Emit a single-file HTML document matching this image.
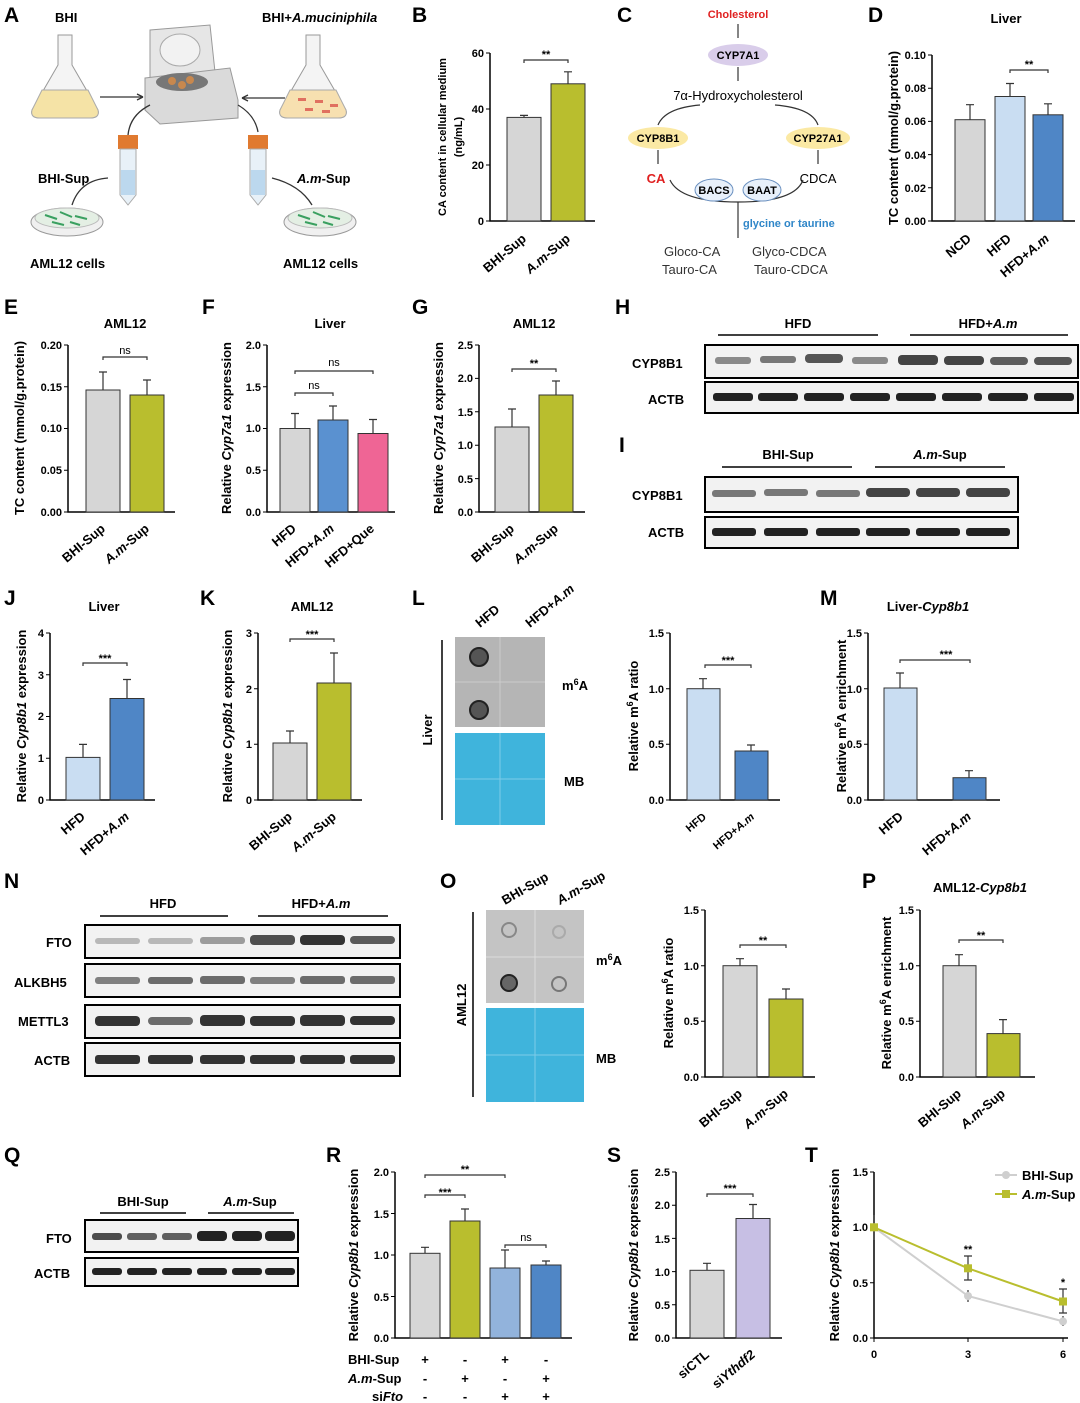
<!DOCTYPE html>
<html><head><meta charset="utf-8"><style>
html,body{margin:0;padding:0;background:#fff}
svg{display:block;font-family:"Liberation Sans",Arial,sans-serif;font-weight:bold}
.pl{font-size:21px;font-weight:bold}
.t{font-size:13px}
.s{font-size:11px}
.ax{stroke:#000;stroke-width:1.5;fill:none}
.bar{stroke:#333;stroke-width:1}
.eb{stroke:#333;stroke-width:1.2;fill:none}
</style></head><body>
<svg width="1080" height="1403" viewBox="0 0 1080 1403" xmlns="http://www.w3.org/2000/svg">
<!-- Panel A -->
<text x="4" y="22" class="pl">A</text>
<text x="55" y="22" class="t" text-anchor="start">BHI</text>
<text x="262" y="22" class="t">BHI+<tspan font-style="italic">A.muciniphila</tspan></text>
<path d="M58,35 L72,35 L72,65 L98,110 Q100,118 90,118 L40,118 Q30,118 32,110 L58,65 Z" fill="#f4f4f4" stroke="#999"/>
<path d="M42,90 L88,90 L98,110 Q100,118 90,118 L40,118 Q30,118 32,110 Z" fill="#f5e3a6" stroke="#aaa"/>
<path d="M306,35 L320,35 L320,65 L346,110 Q348,118 338,118 L288,118 Q278,118 280,110 L306,65 Z" fill="#f4f4f4" stroke="#999"/>
<path d="M290,90 L336,90 L346,110 Q348,118 338,118 L288,118 Q278,118 280,110 Z" fill="#f7e0b0" stroke="#aaa"/>
<g fill="#e07060"><rect x="298" y="98" width="8" height="3"/><rect x="315" y="100" width="8" height="3"/><rect x="330" y="104" width="8" height="3"/><rect x="305" y="108" width="8" height="3"/><rect x="322" y="110" width="8" height="3"/></g>
<path d="M150,30 L210,25 L215,72 L150,78 Z" fill="#e6e6e6" stroke="#999"/>
<ellipse cx="180" cy="50" rx="20" ry="16" fill="#f2f2f2" stroke="#aaa"/>
<path d="M145,78 L230,68 L238,100 L238,118 L160,124 L145,110 Z" fill="#dadada" stroke="#999"/>
<ellipse cx="182" cy="82" rx="26" ry="9" fill="#777"/>
<circle cx="172" cy="81" r="4" fill="#c8884e"/><circle cx="190" cy="80" r="4" fill="#c8884e"/><circle cx="182" cy="85" r="4" fill="#c8884e"/>
<g stroke="#333" stroke-width="1.3" fill="none">
<path d="M100,97 L143,97"/><path d="M143,97 l-6,-3 M143,97 l-6,3"/>
<path d="M285,98 L242,98"/><path d="M242,98 l6,-3 M242,98 l6,3"/>
<path d="M150,105 Q130,115 128,135"/><path d="M238,105 Q255,115 258,132"/>
<path d="M108,178 Q80,180 72,205"/><path d="M272,178 Q300,185 312,205"/>
</g>
<g><rect x="118" y="135" width="20" height="14" fill="#e07a30"/><path d="M120,149 L136,149 L136,195 L128,205 L120,195 Z" fill="#e8f1f8" stroke="#aaa"/><rect x="121" y="170" width="14" height="25" fill="#bcd8ee"/>
<rect x="248" y="135" width="20" height="14" fill="#e07a30"/><path d="M250,149 L266,149 L266,195 L258,205 L250,195 Z" fill="#e8f1f8" stroke="#aaa"/><rect x="251" y="170" width="14" height="25" fill="#bcd8ee"/></g>
<text x="38" y="183" class="t">BHI-Sup</text>
<text x="297" y="183" class="t"><tspan font-style="italic">A.m</tspan>-Sup</text>
<ellipse cx="67" cy="222" rx="36" ry="14" fill="#f0f0f0" stroke="#999"/><ellipse cx="67" cy="218" rx="32" ry="10" fill="#e4efe4" stroke="#bbb"/>
<ellipse cx="320" cy="222" rx="36" ry="14" fill="#f0f0f0" stroke="#999"/><ellipse cx="320" cy="218" rx="32" ry="10" fill="#e4efe4" stroke="#bbb"/>
<g stroke="#3aa060" stroke-width="2"><path d="M45,215 l12,4 M60,212 l12,5 M75,216 l12,3 M52,222 l12,3 M70,222 l10,3"/><path d="M298,215 l12,4 M313,212 l12,5 M328,216 l12,3 M305,222 l12,3 M323,222 l10,3"/></g>
<text x="30" y="268" class="t">AML12 cells</text>
<text x="283" y="268" class="t">AML12 cells</text>

<!-- Panel B -->
<text x="412" y="22" class="pl">B</text>
<g class="ax"><path d="M490,53 L490,221 L595,221"/></g>
<g class="s" text-anchor="end"><text x="484" y="225">0</text><text x="484" y="169">20</text><text x="484" y="113">40</text><text x="484" y="57">60</text></g>
<g stroke="#000"><path d="M486,221h4M486,165h4M486,109h4M486,53h4"/></g>
<text transform="translate(446,137) rotate(-90)" class="s" text-anchor="middle">CA content in cellular medium</text>
<text transform="translate(462,137) rotate(-90)" class="s" text-anchor="middle">(ng/mL)</text>
<rect x="507" y="117.4" width="34" height="103.6" fill="#d6d6d6" class="bar"/>
<rect x="551" y="83.8" width="34" height="137.2" fill="#b9be2e" class="bar"/>
<path class="eb" d="M524,117.4v-2M520,115.4h8M568,83.8v-12M564,71.8h8"/>
<path d="M524,63v-3h44v3" class="eb"/><text x="546" y="58" class="s" text-anchor="middle">**</text>
<text transform="translate(527,240) rotate(-40)" class="t" text-anchor="end">BHI-Sup</text>
<text transform="translate(571,240) rotate(-40)" class="t" text-anchor="end"><tspan font-style="italic">A.m</tspan>-Sup</text>

<!-- Panel C -->
<text x="617" y="22" class="pl">C</text>
<text x="738" y="18" class="s" fill="#e02020" text-anchor="middle">Cholesterol</text>
<path d="M738,24v14" class="eb"/>
<ellipse cx="738" cy="55" rx="30" ry="11" fill="#d9cdea"/><text x="738" y="59" class="s" text-anchor="middle">CYP7A1</text>
<path d="M738,67v14" class="eb"/>
<text x="738" y="100" class="t" text-anchor="middle" font-weight="normal">7α-Hydroxycholesterol</text>
<path d="M700,105 Q665,108 658,125 M775,105 Q812,108 818,125" class="eb"/>
<ellipse cx="658" cy="138" rx="30" ry="11" fill="#fbe9a4"/><text x="658" y="142" class="s" text-anchor="middle">CYP8B1</text>
<ellipse cx="818" cy="138" rx="32" ry="11" fill="#fbe9a4"/><text x="818" y="142" class="s" text-anchor="middle">CYP27A1</text>
<path d="M658,150v14M818,150v14" class="eb"/>
<text x="656" y="183" class="t" fill="#e02020" text-anchor="middle">CA</text>
<text x="818" y="183" class="t" text-anchor="middle" font-weight="normal">CDCA</text>
<path d="M670,180 Q680,202 738,202 Q795,202 803,180" class="eb"/>
<ellipse cx="714" cy="190" rx="19" ry="11" fill="#e8f0fa" stroke="#6a90c0"/><text x="714" y="194" class="s" text-anchor="middle">BACS</text>
<ellipse cx="762" cy="190" rx="19" ry="11" fill="#e8f0fa" stroke="#6a90c0"/><text x="762" y="194" class="s" text-anchor="middle">BAAT</text>
<path d="M738,202v36" class="eb"/>
<text x="743" y="227" class="s" fill="#2f86c8">glycine or taurine</text>
<g class="t" font-weight="normal" fill="#333"><text x="664" y="256">Gloco-CA</text><text x="752" y="256">Glyco-CDCA</text><text x="662" y="274">Tauro-CA</text><text x="754" y="274">Tauro-CDCA</text></g>

<!-- Panel D -->
<text x="868" y="22" class="pl">D</text>
<text x="1006" y="23" class="t" text-anchor="middle">Liver</text>
<path class="ax" d="M932,55L932,221L1075,221"/>
<g stroke="#000"><path d="M928,221h4M928,187.8h4M928,154.6h4M928,121.4h4M928,88.2h4M928,55h4"/></g>
<g class="s" text-anchor="end"><text x="926" y="225">0.00</text><text x="926" y="192">0.02</text><text x="926" y="159">0.04</text><text x="926" y="125">0.06</text><text x="926" y="92">0.08</text><text x="926" y="59">0.10</text></g>
<text transform="translate(898,138) rotate(-90)" class="t" text-anchor="middle">TC content (mmol/g.protein)</text>
<rect x="955" y="119.7" width="30" height="101.3" fill="#d6d6d6" class="bar"/>
<rect x="995" y="96.5" width="30" height="124.5" fill="#c9ddf2" class="bar"/>
<rect x="1033" y="114.8" width="30" height="106.2" fill="#4f86c6" class="bar"/>
<path class="eb" d="M970,119.7v-15M966,104.7h8M1010,96.5v-13M1006,83.5h8M1048,114.8v-11M1044,103.8h8"/>
<path class="eb" d="M1010,73v-3h38v3"/><text x="1029" y="68" class="s" text-anchor="middle">**</text>
<text transform="translate(972,240) rotate(-40)" class="t" text-anchor="end">NCD</text>
<text transform="translate(1012,240) rotate(-40)" class="t" text-anchor="end">HFD</text>
<text transform="translate(1050,240) rotate(-40)" class="t" text-anchor="end">HFD+<tspan font-style="italic">A.m</tspan></text>

<!-- Panel E -->
<text x="4" y="314" class="pl">E</text>
<text x="125" y="328" class="t" text-anchor="middle">AML12</text>
<path class="ax" d="M68,345L68,512L175,512"/>
<g stroke="#000"><path d="M64,512h4M64,470.25h4M64,428.5h4M64,386.75h4M64,345h4"/></g>
<g class="s" text-anchor="end"><text x="62" y="516">0.00</text><text x="62" y="474">0.05</text><text x="62" y="432">0.10</text><text x="62" y="391">0.15</text><text x="62" y="349">0.20</text></g>
<text transform="translate(24,428) rotate(-90)" class="t" text-anchor="middle">TC content (mmol/g.protein)</text>
<rect x="86" y="390" width="34" height="122" fill="#d6d6d6" class="bar"/>
<rect x="130" y="395" width="34" height="117" fill="#b9be2e" class="bar"/>
<path class="eb" d="M103,390v-18M99,372h8M147,395v-15M143,380h8"/>
<path class="eb" d="M103,360v-3h44v3"/><text x="125" y="354" class="s" text-anchor="middle" font-weight="normal">ns</text>
<text transform="translate(106,530) rotate(-40)" class="t" text-anchor="end">BHI-Sup</text>
<text transform="translate(150,530) rotate(-40)" class="t" text-anchor="end"><tspan font-style="italic">A.m</tspan>-Sup</text>

<!-- Panel F -->
<text x="202" y="314" class="pl">F</text>
<text x="330" y="328" class="t" text-anchor="middle">Liver</text>
<path class="ax" d="M267,345L267,512L395,512"/>
<g stroke="#000"><path d="M263,512h4M263,470.25h4M263,428.5h4M263,386.75h4M263,345h4"/></g>
<g class="s" text-anchor="end"><text x="261" y="516">0.0</text><text x="261" y="474">0.5</text><text x="261" y="432">1.0</text><text x="261" y="391">1.5</text><text x="261" y="349">2.0</text></g>
<text transform="translate(231,428) rotate(-90)" class="t" text-anchor="middle">Relative <tspan font-style="italic">Cyp7a1</tspan> expression</text>
<rect x="280" y="428.5" width="30" height="83.5" fill="#d6d6d6" class="bar"/>
<rect x="318" y="420" width="30" height="92" fill="#5a91d0" class="bar"/>
<rect x="358" y="433.5" width="30" height="78.5" fill="#ef6595" class="bar"/>
<path class="eb" d="M295,428.5v-15M291,413.5h8M333,420v-14M329,406h8M373,433.5v-14M369,419.5h8"/>
<path class="eb" d="M295,396v-3h38v3"/><text x="314" y="389" class="s" text-anchor="middle" font-weight="normal">ns</text>
<path class="eb" d="M295,374v-3h78v3"/><text x="334" y="366" class="s" text-anchor="middle" font-weight="normal">ns</text>
<text transform="translate(297,530) rotate(-40)" class="t" text-anchor="end">HFD</text>
<text transform="translate(335,530) rotate(-40)" class="t" text-anchor="end">HFD+<tspan font-style="italic">A.m</tspan></text>
<text transform="translate(375,530) rotate(-40)" class="t" text-anchor="end">HFD+Que</text>

<!-- Panel G -->
<text x="412" y="314" class="pl">G</text>
<text x="534" y="328" class="t" text-anchor="middle">AML12</text>
<path class="ax" d="M479,345L479,512L585,512"/>
<g stroke="#000"><path d="M475,512h4M475,478.6h4M475,445.2h4M475,411.8h4M475,378.4h4M475,345h4"/></g>
<g class="s" text-anchor="end"><text x="473" y="516">0.0</text><text x="473" y="483">0.5</text><text x="473" y="449">1.0</text><text x="473" y="416">1.5</text><text x="473" y="382">2.0</text><text x="473" y="349">2.5</text></g>
<text transform="translate(443,428) rotate(-90)" class="t" text-anchor="middle">Relative <tspan font-style="italic">Cyp7a1</tspan> expression</text>
<rect x="495" y="427" width="34" height="85" fill="#d6d6d6" class="bar"/>
<rect x="539" y="395" width="34" height="117" fill="#b9be2e" class="bar"/>
<path class="eb" d="M512,427v-18M508,409h8M556,395v-14M552,381h8"/>
<path class="eb" d="M512,372v-3h44v3"/><text x="534" y="367" class="s" text-anchor="middle">**</text>
<text transform="translate(515,530) rotate(-40)" class="t" text-anchor="end">BHI-Sup</text>
<text transform="translate(559,530) rotate(-40)" class="t" text-anchor="end"><tspan font-style="italic">A.m</tspan>-Sup</text>

<!-- Panel H -->
<text x="615" y="314" class="pl">H</text>
<text x="798" y="328" class="t" text-anchor="middle">HFD</text>
<text x="988" y="328" class="t" text-anchor="middle">HFD+<tspan font-style="italic">A.m</tspan></text>
<path d="M718,335h160M910,335h158" stroke="#000" stroke-width="1.5"/>
<text x="632" y="368" class="t">CYP8B1</text><text x="648" y="404" class="t">ACTB</text>
<rect x="705" y="345" width="373" height="33" fill="#f2f2f2" stroke="#000" stroke-width="2"/>
<rect x="705" y="382" width="373" height="31" fill="#f2f2f2" stroke="#000" stroke-width="2"/>
<g fill="#444"><rect x="715" y="357" width="36" height="7" rx="3" opacity=".6"/><rect x="760" y="356" width="36" height="7" rx="3" opacity=".7"/><rect x="805" y="354" width="38" height="9" rx="4" opacity=".9"/><rect x="852" y="357" width="36" height="7" rx="3" opacity=".6"/>
<rect x="898" y="355" width="40" height="10" rx="4"/><rect x="944" y="356" width="40" height="9" rx="4"/><rect x="990" y="357" width="38" height="8" rx="4" opacity=".85"/><rect x="1034" y="357" width="38" height="8" rx="4" opacity=".9"/></g>
<g fill="#222"><rect x="713" y="393" width="40" height="8" rx="3"/><rect x="758" y="393" width="40" height="8" rx="3"/><rect x="804" y="393" width="40" height="8" rx="3"/><rect x="850" y="393" width="40" height="8" rx="3"/><rect x="896" y="393" width="40" height="8" rx="3"/><rect x="942" y="393" width="40" height="8" rx="3"/><rect x="988" y="393" width="40" height="8" rx="3"/><rect x="1034" y="393" width="40" height="8" rx="3"/></g>

<!-- Panel I -->
<text x="619" y="452" class="pl">I</text>
<text x="788" y="459" class="t" text-anchor="middle">BHI-Sup</text>
<text x="940" y="459" class="t" text-anchor="middle"><tspan font-style="italic">A.m</tspan>-Sup</text>
<path d="M722,467h130M875,467h130" stroke="#000" stroke-width="1.5"/>
<text x="632" y="500" class="t">CYP8B1</text><text x="648" y="537" class="t">ACTB</text>
<rect x="705" y="477" width="313" height="35" fill="#f2f2f2" stroke="#000" stroke-width="2"/>
<rect x="705" y="517" width="313" height="31" fill="#f2f2f2" stroke="#000" stroke-width="2"/>
<g fill="#444"><rect x="712" y="490" width="44" height="7" rx="3" opacity=".7"/><rect x="764" y="489" width="44" height="7" rx="3" opacity=".7"/><rect x="816" y="490" width="44" height="7" rx="3" opacity=".7"/><rect x="866" y="488" width="44" height="9" rx="4"/><rect x="916" y="488" width="44" height="9" rx="4"/><rect x="966" y="488" width="44" height="9" rx="4"/></g>
<g fill="#222"><rect x="712" y="528" width="44" height="8" rx="3"/><rect x="764" y="528" width="44" height="8" rx="3"/><rect x="816" y="528" width="44" height="8" rx="3"/><rect x="866" y="528" width="44" height="8" rx="3"/><rect x="916" y="528" width="44" height="8" rx="3"/><rect x="966" y="528" width="44" height="8" rx="3"/></g>

<!-- Panel J -->
<text x="4" y="605" class="pl">J</text>
<text x="104" y="611" class="t" text-anchor="middle">Liver</text>
<path class="ax" d="M50,633L50,800L155,800"/>
<g stroke="#000"><path d="M46,800h4M46,758.25h4M46,716.5h4M46,674.75h4M46,633h4"/></g>
<g class="s" text-anchor="end"><text x="44" y="804">0</text><text x="44" y="762">1</text><text x="44" y="720">2</text><text x="44" y="679">3</text><text x="44" y="637">4</text></g>
<text transform="translate(26,716) rotate(-90)" class="t" text-anchor="middle">Relative <tspan font-style="italic">Cyp8b1</tspan> expression</text>
<rect x="66" y="757.4" width="34" height="42.6" fill="#c9ddf2" class="bar"/>
<rect x="110" y="698.5" width="34" height="101.5" fill="#4f86c6" class="bar"/>
<path class="eb" d="M83,757.4v-13M79,744.4h8M127,698.5v-19M123,679.5h8"/>
<path class="eb" d="M83,666v-3h44v3"/><text x="105" y="662" class="s" text-anchor="middle">***</text>
<text transform="translate(86,818) rotate(-40)" class="t" text-anchor="end">HFD</text>
<text transform="translate(130,818) rotate(-40)" class="t" text-anchor="end">HFD+<tspan font-style="italic">A.m</tspan></text>

<!-- Panel K -->
<text x="200" y="605" class="pl">K</text>
<text x="312" y="611" class="t" text-anchor="middle">AML12</text>
<path class="ax" d="M258,633L258,800L362,800"/>
<g stroke="#000"><path d="M254,800h4M254,744.3h4M254,688.7h4M254,633h4"/></g>
<g class="s" text-anchor="end"><text x="252" y="804">0</text><text x="252" y="748">1</text><text x="252" y="693">2</text><text x="252" y="637">3</text></g>
<text transform="translate(232,716) rotate(-90)" class="t" text-anchor="middle">Relative <tspan font-style="italic">Cyp8b1</tspan> expression</text>
<rect x="273" y="743" width="34" height="57" fill="#d6d6d6" class="bar"/>
<rect x="317" y="683" width="34" height="117" fill="#b9be2e" class="bar"/>
<path class="eb" d="M290,743v-12M286,731h8M334,683v-30M330,653h8"/>
<path class="eb" d="M290,642v-3h44v3"/><text x="312" y="638" class="s" text-anchor="middle">***</text>
<text transform="translate(293,818) rotate(-40)" class="t" text-anchor="end">BHI-Sup</text>
<text transform="translate(337,818) rotate(-40)" class="t" text-anchor="end"><tspan font-style="italic">A.m</tspan>-Sup</text>

<!-- Panel L -->
<text x="412" y="605" class="pl">L</text>
<text transform="translate(480,628) rotate(-40)" class="t">HFD</text>
<text transform="translate(530,628) rotate(-40)" class="t">HFD+<tspan font-style="italic">A.m</tspan></text>
<path d="M442,640v180" stroke="#000" stroke-width="1.5"/>
<text transform="translate(432,730) rotate(-90)" class="t" text-anchor="middle">Liver</text>
<rect x="455" y="637" width="90" height="90" fill="#b5b5b5"/>
<path d="M500,637v90M455,682h90" stroke="#ccc"/>
<circle cx="479" cy="657" r="9" fill="#555" stroke="#222" stroke-width="2"/>
<circle cx="479" cy="710" r="9" fill="#555" stroke="#222" stroke-width="2"/>
<rect x="455" y="733" width="90" height="92" fill="#3fb4dc"/>
<path d="M500,733v92M455,779h90" stroke="#7dcbe8"/>
<text x="562" y="690" class="t">m<tspan baseline-shift="super" font-size="9">6</tspan>A</text>
<text x="564" y="786" class="t">MB</text>
<path class="ax" d="M670,633L670,800L780,800"/>
<g stroke="#000"><path d="M666,800h4M666,744.3h4M666,688.7h4M666,633h4"/></g>
<g class="s" text-anchor="end"><text x="664" y="804">0.0</text><text x="664" y="748">0.5</text><text x="664" y="693">1.0</text><text x="664" y="637">1.5</text></g>
<text transform="translate(638,716) rotate(-90)" class="t" text-anchor="middle">Relative m<tspan baseline-shift="super" font-size="9">6</tspan>A ratio</text>
<rect x="687" y="688.7" width="33" height="111.3" fill="#c9ddf2" class="bar"/>
<rect x="735" y="751" width="33" height="49" fill="#4f86c6" class="bar"/>
<path class="eb" d="M703,688.7v-10M699,678.7h8M751,751v-6M747,745h8"/>
<path class="eb" d="M705,668v-3h46v3"/><text x="728" y="664" class="s" text-anchor="middle">***</text>
<text transform="translate(707,818) rotate(-40)" class="s" text-anchor="end">HFD</text>
<text transform="translate(755,818) rotate(-40)" class="s" text-anchor="end">HFD+<tspan font-style="italic">A.m</tspan></text>

<!-- Panel M -->
<text x="820" y="605" class="pl">M</text>
<text x="928" y="611" class="t" text-anchor="middle">Liver-<tspan font-style="italic">Cyp8b1</tspan></text>
<path class="ax" d="M868,633L868,800L1000,800"/>
<g stroke="#000"><path d="M864,800h4M864,744.3h4M864,688.7h4M864,633h4"/></g>
<g class="s" text-anchor="end"><text x="862" y="804">0.0</text><text x="862" y="748">0.5</text><text x="862" y="693">1.0</text><text x="862" y="637">1.5</text></g>
<text transform="translate(846,716) rotate(-90)" class="t" text-anchor="middle">Relative m<tspan baseline-shift="super" font-size="9">6</tspan>A enrichment</text>
<rect x="884" y="688" width="33" height="112" fill="#c9ddf2" class="bar"/>
<rect x="953" y="777.7" width="33" height="22.3" fill="#4f86c6" class="bar"/>
<path class="eb" d="M900,688v-15M896,673h8M969,777.7v-7M965,770.7h8"/>
<path class="eb" d="M900,663v-3h70v3"/><text x="946" y="658" class="s" text-anchor="middle">***</text>
<text transform="translate(904,818) rotate(-40)" class="t" text-anchor="end">HFD</text>
<text transform="translate(972,818) rotate(-40)" class="t" text-anchor="end">HFD+<tspan font-style="italic">A.m</tspan></text>

<!-- Panel N -->
<text x="4" y="888" class="pl">N</text>
<text x="163" y="908" class="t" text-anchor="middle">HFD</text>
<text x="321" y="908" class="t" text-anchor="middle">HFD+<tspan font-style="italic">A.m</tspan></text>
<path d="M100,916h128M258,916h130" stroke="#000" stroke-width="1.5"/>
<text x="46" y="947" class="t">FTO</text><text x="14" y="987" class="t">ALKBH5</text><text x="18" y="1026" class="t">METTL3</text><text x="34" y="1065" class="t">ACTB</text>
<g fill="#f2f2f2" stroke="#000" stroke-width="2"><rect x="85" y="925" width="315" height="33"/><rect x="85" y="964" width="315" height="33"/><rect x="85" y="1005" width="315" height="33"/><rect x="85" y="1043" width="315" height="33"/></g>
<g fill="#333"><rect x="95" y="938" width="45" height="6" rx="3" opacity=".3"/><rect x="148" y="938" width="45" height="6" rx="3" opacity=".3"/><rect x="200" y="937" width="45" height="7" rx="3" opacity=".45"/><rect x="250" y="935" width="45" height="10" rx="4" opacity=".85"/><rect x="300" y="935" width="45" height="10" rx="4"/><rect x="350" y="936" width="45" height="8" rx="4" opacity=".8"/>
<rect x="95" y="977" width="45" height="7" rx="3" opacity=".6"/><rect x="148" y="977" width="45" height="7" rx="3" opacity=".7"/><rect x="200" y="976" width="45" height="8" rx="3" opacity=".7"/><rect x="250" y="977" width="45" height="7" rx="3" opacity=".6"/><rect x="300" y="976" width="45" height="8" rx="3" opacity=".7"/><rect x="350" y="976" width="45" height="8" rx="3" opacity=".7"/>
<rect x="95" y="1016" width="45" height="10" rx="4"/><rect x="148" y="1017" width="45" height="8" rx="4" opacity=".7"/><rect x="200" y="1015" width="45" height="11" rx="4"/><rect x="250" y="1016" width="45" height="10" rx="4"/><rect x="300" y="1015" width="45" height="11" rx="4"/><rect x="350" y="1016" width="45" height="9" rx="4"/>
<rect x="95" y="1055" width="45" height="9" rx="3"/><rect x="148" y="1055" width="45" height="9" rx="3"/><rect x="200" y="1055" width="45" height="9" rx="3"/><rect x="250" y="1055" width="45" height="9" rx="3"/><rect x="300" y="1055" width="45" height="9" rx="3"/><rect x="350" y="1055" width="45" height="9" rx="3"/></g>

<!-- Panel O -->
<text x="440" y="888" class="pl">O</text>
<text transform="translate(505,905) rotate(-30)" class="t">BHI-Sup</text>
<text transform="translate(560,905) rotate(-30)" class="t"><tspan font-style="italic">A.m</tspan>-Sup</text>
<path d="M473,912v185" stroke="#000" stroke-width="1.5"/>
<text transform="translate(466,1005) rotate(-90)" class="t" text-anchor="middle">AML12</text>
<rect x="486" y="910" width="98" height="93" fill="#c4c4c4"/>
<path d="M535,910v93M486,957h98" stroke="#ddd"/>
<circle cx="509" cy="930" r="7" fill="none" stroke="#888" stroke-width="2"/><circle cx="559" cy="932" r="6" fill="none" stroke="#aaa" stroke-width="2"/>
<circle cx="509" cy="983" r="8" fill="#666" stroke="#222" stroke-width="2"/><circle cx="559" cy="984" r="7" fill="none" stroke="#777" stroke-width="2"/>
<rect x="486" y="1008" width="98" height="94" fill="#3fb4dc"/>
<path d="M535,1008v94M486,1055h98" stroke="#7dcbe8"/>
<text x="596" y="965" class="t">m<tspan baseline-shift="super" font-size="9">6</tspan>A</text>
<text x="596" y="1063" class="t">MB</text>
<path class="ax" d="M705,910L705,1077L815,1077"/>
<g stroke="#000"><path d="M701,1077h4M701,1021.3h4M701,965.7h4M701,910h4"/></g>
<g class="s" text-anchor="end"><text x="699" y="1081">0.0</text><text x="699" y="1025">0.5</text><text x="699" y="970">1.0</text><text x="699" y="914">1.5</text></g>
<text transform="translate(673,993) rotate(-90)" class="t" text-anchor="middle">Relative m<tspan baseline-shift="super" font-size="9">6</tspan>A ratio</text>
<rect x="723" y="965.7" width="34" height="111.3" fill="#d6d6d6" class="bar"/>
<rect x="769" y="999" width="34" height="78" fill="#b9be2e" class="bar"/>
<path class="eb" d="M740,965.7v-7M736,958.7h8M786,999v-10M782,989h8"/>
<path class="eb" d="M740,948v-3h46v3"/><text x="763" y="944" class="s" text-anchor="middle">**</text>
<text transform="translate(743,1095) rotate(-40)" class="t" text-anchor="end">BHI-Sup</text>
<text transform="translate(789,1095) rotate(-40)" class="t" text-anchor="end"><tspan font-style="italic">A.m</tspan>-Sup</text>

<!-- Panel P -->
<text x="862" y="888" class="pl">P</text>
<text x="980" y="892" class="t" text-anchor="middle">AML12-<tspan font-style="italic">Cyp8b1</tspan></text>
<path class="ax" d="M920,910L920,1077L1035,1077"/>
<g stroke="#000"><path d="M916,1077h4M916,1021.3h4M916,965.7h4M916,910h4"/></g>
<g class="s" text-anchor="end"><text x="914" y="1081">0.0</text><text x="914" y="1025">0.5</text><text x="914" y="970">1.0</text><text x="914" y="914">1.5</text></g>
<text transform="translate(891,993) rotate(-90)" class="t" text-anchor="middle">Relative m<tspan baseline-shift="super" font-size="9">6</tspan>A enrichment</text>
<rect x="943" y="965.7" width="33" height="111.3" fill="#d6d6d6" class="bar"/>
<rect x="987" y="1033.6" width="33" height="43.4" fill="#b9be2e" class="bar"/>
<path class="eb" d="M959,965.7v-11M955,954.7h8M1003,1033.6v-14M999,1019.6h8"/>
<path class="eb" d="M959,943v-3h44v3"/><text x="981" y="939" class="s" text-anchor="middle">**</text>
<text transform="translate(962,1095) rotate(-40)" class="t" text-anchor="end">BHI-Sup</text>
<text transform="translate(1006,1095) rotate(-40)" class="t" text-anchor="end"><tspan font-style="italic">A.m</tspan>-Sup</text>

<!-- Panel Q -->
<text x="4" y="1162" class="pl">Q</text>
<text x="143" y="1206" class="t" text-anchor="middle">BHI-Sup</text>
<text x="250" y="1206" class="t" text-anchor="middle"><tspan font-style="italic">A.m</tspan>-Sup</text>
<path d="M100,1213h86M208,1213h86" stroke="#000" stroke-width="1.5"/>
<text x="46" y="1243" class="t">FTO</text><text x="34" y="1278" class="t">ACTB</text>
<rect x="85" y="1220" width="213" height="32" fill="#f2f2f2" stroke="#000" stroke-width="2"/>
<rect x="85" y="1258" width="213" height="28" fill="#f2f2f2" stroke="#000" stroke-width="2"/>
<g fill="#222"><rect x="92" y="1233" width="30" height="7" rx="3" opacity=".8"/><rect x="127" y="1233" width="30" height="7" rx="3" opacity=".7"/><rect x="162" y="1233" width="30" height="7" rx="3" opacity=".7"/><rect x="197" y="1231" width="30" height="10" rx="4"/><rect x="232" y="1231" width="30" height="10" rx="4"/><rect x="265" y="1231" width="30" height="10" rx="4"/>
<rect x="92" y="1268" width="30" height="7" rx="3"/><rect x="127" y="1268" width="30" height="7" rx="3"/><rect x="162" y="1268" width="30" height="7" rx="3"/><rect x="197" y="1268" width="30" height="7" rx="3"/><rect x="232" y="1268" width="30" height="7" rx="3"/><rect x="265" y="1268" width="30" height="7" rx="3"/></g>

<!-- Panel R -->
<text x="326" y="1162" class="pl">R</text>
<path class="ax" d="M395,1172L395,1338L572,1338"/>
<g stroke="#000"><path d="M391,1338h4M391,1296.5h4M391,1255h4M391,1213.5h4M391,1172h4"/></g>
<g class="s" text-anchor="end"><text x="389" y="1342">0.0</text><text x="389" y="1301">0.5</text><text x="389" y="1259">1.0</text><text x="389" y="1218">1.5</text><text x="389" y="1176">2.0</text></g>
<text transform="translate(358,1255) rotate(-90)" class="t" text-anchor="middle">Relative <tspan font-style="italic">Cyp8b1</tspan> expression</text>
<rect x="410" y="1253.3" width="30" height="84.7" fill="#d6d6d6" class="bar"/>
<rect x="450" y="1221" width="30" height="117" fill="#b9be2e" class="bar"/>
<rect x="490" y="1268" width="30" height="70" fill="#92b3dc" class="bar"/>
<rect x="531" y="1265" width="30" height="73" fill="#4f86c6" class="bar"/>
<path class="eb" d="M425,1253.3v-6M421,1247.3h8M465,1221v-12M461,1209h8M505,1268v-18M501,1250h8M546,1265v-4M542,1261h8"/>
<path class="eb" d="M425,1198v-3h40v3"/><text x="445" y="1196" class="s" text-anchor="middle">***</text>
<path class="eb" d="M425,1178v-3h80v3"/><text x="465" y="1173" class="s" text-anchor="middle">**</text>
<path class="eb" d="M505,1248v-3h41v3"/><text x="526" y="1241" class="s" text-anchor="middle" font-weight="normal">ns</text>
<g class="t"><text x="348" y="1364">BHI-Sup</text><text x="348" y="1383"><tspan font-style="italic">A.m</tspan>-Sup</text><text x="372" y="1401">si<tspan font-style="italic">Fto</tspan></text></g>
<g class="t" text-anchor="middle"><text x="425" y="1364">+</text><text x="465" y="1364">-</text><text x="505" y="1364">+</text><text x="546" y="1364">-</text>
<text x="425" y="1383">-</text><text x="465" y="1383">+</text><text x="505" y="1383">-</text><text x="546" y="1383">+</text>
<text x="425" y="1401">-</text><text x="465" y="1401">-</text><text x="505" y="1401">+</text><text x="546" y="1401">+</text></g>

<!-- Panel S -->
<text x="607" y="1162" class="pl">S</text>
<path class="ax" d="M676,1172L676,1338L782,1338"/>
<g stroke="#000"><path d="M672,1338h4M672,1304.8h4M672,1271.6h4M672,1238.4h4M672,1205.2h4M672,1172h4"/></g>
<g class="s" text-anchor="end"><text x="670" y="1342">0.0</text><text x="670" y="1309">0.5</text><text x="670" y="1276">1.0</text><text x="670" y="1243">1.5</text><text x="670" y="1209">2.0</text><text x="670" y="1176">2.5</text></g>
<text transform="translate(638,1255) rotate(-90)" class="t" text-anchor="middle">Relative <tspan font-style="italic">Cyp8b1</tspan> expression</text>
<rect x="690" y="1270.3" width="34" height="67.7" fill="#d6d6d6" class="bar"/>
<rect x="736" y="1218.5" width="34" height="119.5" fill="#c7bfe4" class="bar"/>
<path class="eb" d="M707,1270.3v-7M703,1263.3h8M753,1218.5v-14M749,1204.5h8"/>
<path class="eb" d="M707,1197v-3h46v3"/><text x="730" y="1192" class="s" text-anchor="middle">***</text>
<text transform="translate(710,1356) rotate(-40)" class="t" text-anchor="end">siCTL</text>
<text transform="translate(756,1356) rotate(-40)" class="t" text-anchor="end">si<tspan font-style="italic">Ythdf2</tspan></text>

<!-- Panel T -->
<text x="805" y="1162" class="pl">T</text>
<path class="ax" d="M874,1172L874,1338L1068,1338"/>
<g stroke="#000"><path d="M870,1338h4M870,1282.7h4M870,1227.3h4M870,1172h4M874,1338v4M968,1338v4M1063,1338v4"/></g>
<g class="s" text-anchor="end"><text x="868" y="1342">0.0</text><text x="868" y="1287">0.5</text><text x="868" y="1231">1.0</text><text x="868" y="1176">1.5</text></g>
<g class="s" text-anchor="middle"><text x="874" y="1358">0</text><text x="968" y="1358">3</text><text x="1063" y="1358">6</text></g>
<text transform="translate(839,1255) rotate(-90)" class="t" text-anchor="middle">Relative <tspan font-style="italic">Cyp8b1</tspan> expression</text>
<polyline points="874,1227.3 968,1296 1063,1321.4" fill="none" stroke="#cfcfcf" stroke-width="2"/>
<polyline points="874,1227.3 968,1268.3 1063,1301.5" fill="none" stroke="#b9be2e" stroke-width="2"/>
<path class="eb" d="M874,1215v25M968,1290v12M1063,1316v10M968,1256v24M1063,1289v24M964,1256h8M964,1280h8M1059,1289h8M1059,1313h8"/>
<circle cx="874" cy="1227.3" r="4" fill="#cfcfcf"/><circle cx="968" cy="1296" r="4" fill="#cfcfcf"/><circle cx="1063" cy="1321.4" r="4" fill="#cfcfcf"/>
<rect x="870" y="1223.3" width="8" height="8" fill="#b9be2e"/><rect x="964" y="1264.3" width="8" height="8" fill="#b9be2e"/><rect x="1059" y="1297.5" width="8" height="8" fill="#b9be2e"/>
<text x="968" y="1253" class="s" text-anchor="middle">**</text><text x="1063" y="1286" class="s" text-anchor="middle">*</text>
<path d="M995,1175h22" stroke="#cfcfcf" stroke-width="2"/><circle cx="1006" cy="1175" r="4" fill="#cfcfcf"/>
<text x="1022" y="1180" class="t">BHI-Sup</text>
<path d="M995,1194h22" stroke="#b9be2e" stroke-width="2"/><rect x="1002" y="1190" width="8" height="8" fill="#b9be2e"/>
<text x="1022" y="1199" class="t"><tspan font-style="italic">A.m</tspan>-Sup</text>
</svg>
</body></html>
